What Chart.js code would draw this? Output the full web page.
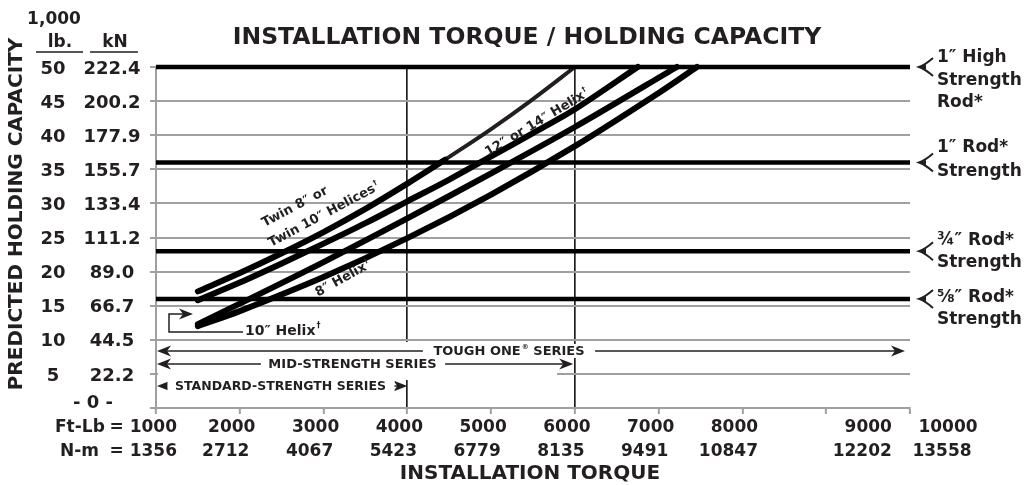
<!DOCTYPE html>
<html>
<head>
<meta charset="utf-8">
<script src="https://cdn.jsdelivr.net/npm/chart.js@4.4.1/dist/chart.umd.min.js"></script>
<style>
  html, body { margin: 0; padding: 0; background: #fff; }
  #wrap { width: 1027px; height: 485px; }
</style>
</head>
<body>
<div id="wrap"><canvas id="myChart"></canvas></div>
<script>
// axis ticks
const torqueFtLb = [1000, 2000, 3000, 4000, 5000, 6000, 7000, 8000, 9000, 10000];
const torqueNm = [1356, 2712, 4067, 5423, 6779, 8135, 9491, 10847, 12202, 13558];
const capacityLb = [50, 45, 40, 35, 30, 25, 20, 15, 10, 5];
const capacityKN = ["222.4", "200.2", "177.9", "155.7", "133.4", "111.2", "89.0", "66.7", "44.5", "22.2"];

// helix curves: torque (ft-lb) / capacity (1,000 lb)
const twinTorque = [1500, 2000, 2500, 3000, 3500, 4000, 4450];
const twinCapacity = [17.1, 19.8, 22.7, 25.8, 29.2, 32.9, 36.4];
const largeTorque = [4450, 5000, 5500, 6000];
const largeCapacity = [36.4, 40.9, 45.3, 50];
const secondTorque = [1500, 2000, 2500, 3000, 3500, 4000, 4500, 5000, 5500, 6000, 6750];
const secondCapacity = [15.8, 18.4, 21.2, 24.1, 27.1, 30.3, 33.5, 36.9, 40.3, 43.8, 50];
const eightTorque = [1500, 2000, 3000, 4000, 5000, 6000, 7217];
const eightCapacity = [12.3, 15.3, 21.4, 27.8, 34.4, 41.2, 50];
const tenTorque = [1500, 2000, 3000, 4000, 5000, 6000, 7000, 7456];
const tenCapacity = [12.0, 14.2, 19.2, 24.9, 31.3, 38.4, 46.2, 50];

// rod strength limits (1,000 lb)
const rodCapacity = [50, 36, 23, 16];

const INK = "#231f20";
const GRID = "#a0a0a0";
const FONT = '"DejaVu Sans"';

const pts = (xs, ys) => xs.map((x, i) => ({ x: x, y: ys[i] }));

function curve(xs, ys, width, color) {
  return {
    data: pts(xs, ys),
    borderColor: color,
    borderWidth: width,
    borderCapStyle: "round",
    borderJoinStyle: "round",
    tension: 0.3,
    pointRadius: 0,
    fill: false,
    clip: false,
  };
}

const rodSets = rodCapacity.map((v) => ({
  data: [{ x: 1000, y: v }, { x: 10000, y: v }],
  borderColor: "#000",
  borderWidth: 4.5,
  pointRadius: 0,
  fill: false,
  clip: false,
}));

function txt(ctx, s, x, y, size, align) {
  ctx.font = "bold " + size + "px " + FONT;
  ctx.textAlign = align || "center";
  ctx.textBaseline = "middle";
  ctx.fillText(s, x, y);
}

// text with a small raised mark (dagger, registered) and optional tail
function txtSup(ctx, s, sup, x, y, size, align, tail) {
  const small = Math.round(size * 0.55);
  ctx.font = "bold " + size + "px " + FONT;
  const w = ctx.measureText(s).width;
  const wt = tail ? ctx.measureText(tail).width : 0;
  ctx.font = "bold " + small + "px " + FONT;
  const ws = ctx.measureText(sup).width + 1;
  let left = x;
  if (align === "center" || !align) left = x - (w + ws + wt) / 2;
  txt(ctx, s, left, y, size, "left");
  txt(ctx, sup, left + w + 1, y - size * 0.35, small, "left");
  if (tail) txt(ctx, tail, left + w + ws, y, size, "left");
}

function head(ctx, x, y, dir) {
  ctx.beginPath();
  ctx.moveTo(x, y);
  ctx.lineTo(x - dir * 14, y - 5.5);
  ctx.lineTo(x - dir * 10, y);
  ctx.lineTo(x - dir * 14, y + 5.5);
  ctx.closePath();
  ctx.fill();
}

function series(ctx, x1, x2, y, label, sup, tail, cx, size) {
  ctx.lineWidth = 1.5;
  ctx.beginPath();
  ctx.moveTo(x1 + 4, y);
  ctx.lineTo(x2 - 4, y);
  ctx.stroke();
  head(ctx, x1, y, -1);
  head(ctx, x2, y, 1);
  ctx.font = "bold " + size + "px " + FONT;
  const w = ctx.measureText(label + sup + tail).width;
  ctx.fillStyle = "#fff";
  ctx.fillRect(cx - w / 2 - 8, y - 7, w + 16, 14);
  ctx.fillStyle = INK;
  txtSup(ctx, label, sup, cx, y + 1, size, "center", tail);
}

function bracket(ctx, x, y) {
  ctx.lineWidth = 2;
  ctx.beginPath();
  ctx.moveTo(x + 14, y - 9);
  ctx.quadraticCurveTo(x + 6, y - 2, x, y);
  ctx.quadraticCurveTo(x + 6, y + 2, x + 14, y + 9);
  ctx.stroke();
  ctx.beginPath();
  ctx.moveTo(x, y);
  ctx.lineTo(x + 7, y - 2.5);
  ctx.lineTo(x + 7, y + 2.5);
  ctx.closePath();
  ctx.fill();
}

function rotated(ctx, x, y, deg, fn) {
  ctx.save();
  ctx.translate(x, y);
  ctx.rotate((deg * Math.PI) / 180);
  fn();
  ctx.restore();
}

const labels = {
  id: "labels",
  afterDraw(chart) {
    const ctx = chart.ctx;
    const xs = chart.scales.x;
    const ys = chart.scales.y;
    ctx.save();
    ctx.fillStyle = INK;
    ctx.strokeStyle = INK;

    // title
    txt(ctx, "INSTALLATION TORQUE / HOLDING CAPACITY", 527, 38, 23.5);

    // y axis title
    rotated(ctx, 17, 214, -90, () => txt(ctx, "PREDICTED HOLDING CAPACITY", 0, 0, 20));

    // y column headers
    txt(ctx, "1,000", 54, 20, 17);
    txt(ctx, "lb.", 60, 43, 17);
    txt(ctx, "kN", 115, 43, 17);
    ctx.lineWidth = 1.5;
    ctx.beginPath();
    ctx.moveTo(36, 52); ctx.lineTo(83, 52);
    ctx.moveTo(90, 52); ctx.lineTo(138, 52);
    ctx.stroke();

    // y tick labels
    capacityLb.forEach((v, i) => {
      const y = ys.getPixelForValue(v) + 2;
      txt(ctx, String(v), 53, y, 18);
      txt(ctx, capacityKN[i], 112, y, 18);
    });
    txt(ctx, "- 0 -", 93, 403, 18);

    // x tick labels
    const shift = { 9000: 42, 10000: 38 };
    torqueFtLb.forEach((v, i) => {
      const px = xs.getPixelForValue(v);
      if (i === 0) {
        txt(ctx, "Ft-Lb", 55, 428, 17, "left");
        txt(ctx, "= " + v, 177, 428, 17, "right");
        txt(ctx, "N-m", 60, 452, 17, "left");
        txt(ctx, "= " + torqueNm[i], 177, 452, 17, "right");
        return;
      }
      const dx = shift[v] !== undefined ? shift[v] : -8;
      txt(ctx, String(v), px + dx, 428, 17);
      txt(ctx, String(torqueNm[i]), px + dx - 6, 452, 17);
    });
    txt(ctx, "INSTALLATION TORQUE", 530, 474, 20);

    // rod strength notes
    const rodText = [
      [["1″ High", -9], ["Strength", 14], ["Rod*", 36]],
      [["1″ Rod*", -15], ["Strength", 9]],
      [["¾″ Rod*", -11], ["Strength", 11]],
      [["⅝″ Rod*", -1], ["Strength", 21]],
    ];
    rodCapacity.forEach((v, i) => {
      const y = ys.getPixelForValue(v);
      bracket(ctx, 919, y);
      rodText[i].forEach(([s, dy]) => txt(ctx, s, 937, y + dy, 17, "left"));
    });

    // curve notes
    rotated(ctx, 295, 207, -28, () => txt(ctx, "Twin 8″ or", 0, 0, 13));
    rotated(ctx, 324, 215, -28, () => txtSup(ctx, "Twin 10″ Helices", "†", 0, 0, 13));
    rotated(ctx, 537, 123, -31, () => txtSup(ctx, "12″ or 14″ Helix", "†", 0, 0, 13));
    rotated(ctx, 343, 279, -29, () => txtSup(ctx, "8″ Helix", "†", 0, 0, 13));

    // 10" helix callout
    ctx.lineWidth = 1.5;
    ctx.beginPath();
    ctx.moveTo(243, 332); ctx.lineTo(169, 332); ctx.lineTo(169, 314); ctx.lineTo(184, 314);
    ctx.stroke();
    head(ctx, 193, 314, 1);
    txtSup(ctx, "10″ Helix", "†", 245, 331, 14, "left");

    // series ranges
    ctx.fillStyle = "#fff";
    ctx.fillRect(158, 342, 399, 38);
    ctx.fillStyle = INK;
    const x0 = xs.getPixelForValue(1000) + 1;
    series(ctx, x0, xs.getPixelForValue(9940), 351, "TOUGH ONE", "®", " SERIES", 509, 13);
    series(ctx, x0, xs.getPixelForValue(5980), 364, "MID-STRENGTH SERIES", "", "", 353, 13);
    series(ctx, x0, xs.getPixelForValue(4000), 386, "STANDARD-STRENGTH SERIES", "", "", 281, 12.5);
    ctx.restore();
  },
};

const config = {
  type: "line",
  data: {
    datasets: [
      ...rodSets,
      curve(twinTorque, twinCapacity, 6, "#000"),
      curve(largeTorque, largeCapacity, 4, INK),
      curve(secondTorque, secondCapacity, 6, "#000"),
      curve(eightTorque, eightCapacity, 6, "#000"),
      curve(tenTorque, tenCapacity, 6, "#000"),
    ],
  },
  options: {
    responsive: true,
    maintainAspectRatio: false,
    animation: false,
    layout: { padding: { left: 150, right: 117, top: 67, bottom: 71 } },
    plugins: { legend: { display: false }, tooltip: { enabled: false } },
    scales: {
      x: {
        type: "linear",
        min: 1000,
        max: 10000,
        ticks: { stepSize: 1000, display: false },
        border: { color: GRID, width: 2 },
        grid: {
          color: (c) => (c.tick && (c.tick.value === 4000 || c.tick.value === 6000) ? INK : "rgba(0,0,0,0)"),
          lineWidth: 1.7,
          tickColor: GRID,
          tickWidth: 2,
          tickLength: 6,
        },
      },
      y: {
        min: 0,
        max: 50,
        ticks: { stepSize: 5, display: false },
        border: { color: GRID, width: 2 },
        grid: { color: GRID, lineWidth: 2, tickColor: GRID, tickLength: 6 },
      },
    },
  },
  plugins: [labels],
};

const myChart = new Chart(document.getElementById("myChart"), config);
</script>
</body>
</html>
